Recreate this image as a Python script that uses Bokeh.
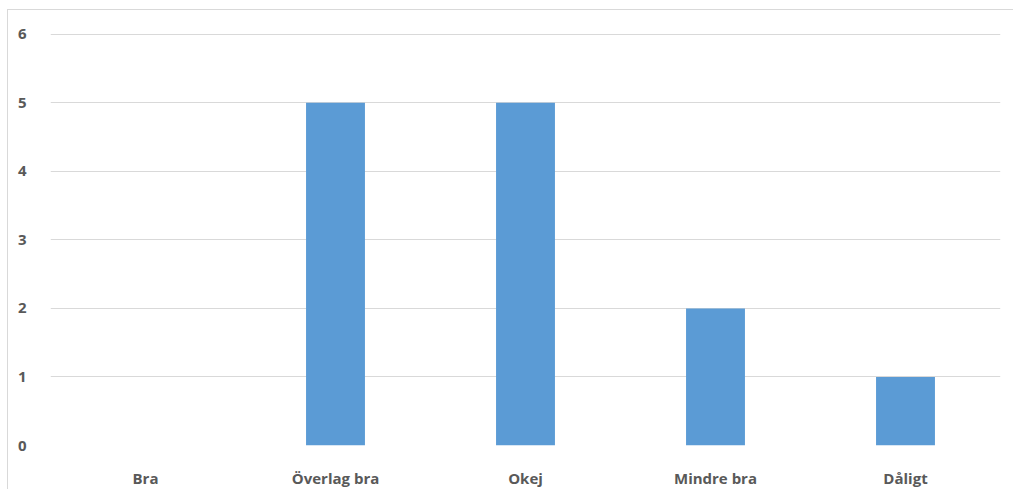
from bokeh.plotting import figure
from bokeh.models import ColumnDataSource, FixedTicker
from bokeh.embed import file_html
from bokeh.resources import INLINE

categories = ["Bra", "Överlag bra", "Okej", "Mindre bra", "Dåligt"]
counts = [0, 5, 5, 2, 1]
y_ticks = [0, 1, 2, 3, 4, 5, 6]

src = ColumnDataSource(dict(cat=categories, val=counts))

p = figure(x_range=categories, y_range=(0, 6.01), width=1006, height=480,
           output_backend="svg", toolbar_location=None,
           min_border_left=42, min_border_right=14, min_border_top=23, min_border_bottom=0,
           margin=(9, 0, 0, 7),
           styles={"border-left": "1px solid #d9d9d9", "border-top": "1px solid #d9d9d9",
                   "border-right": "none", "border-bottom": "none"})
p.vbar(x="cat", top="val", width=0.31, source=src, color="#5B9BD5", line_color=None)

p.outline_line_color = None
p.background_fill_color = "white"
p.border_fill_color = "white"

for ax in (p.xaxis[0], p.yaxis[0]):
    ax.axis_line_color = None
    ax.major_tick_line_color = None
    ax.minor_tick_line_color = None
    ax.major_label_text_font = "Open Sans"
    ax.major_label_text_font_size = "15px"
    ax.major_label_text_color = "#595959"
    ax.major_label_text_font_style = "bold"

p.yaxis.ticker = FixedTicker(ticks=y_ticks)
p.yaxis.major_label_standoff = 18
p.xaxis.major_label_standoff = 16
p.xgrid.grid_line_color = None
p.ygrid.grid_line_color = "#d9d9d9"
p.ygrid.grid_line_width = 1

open("out.html", "w").write(file_html(p, INLINE))
